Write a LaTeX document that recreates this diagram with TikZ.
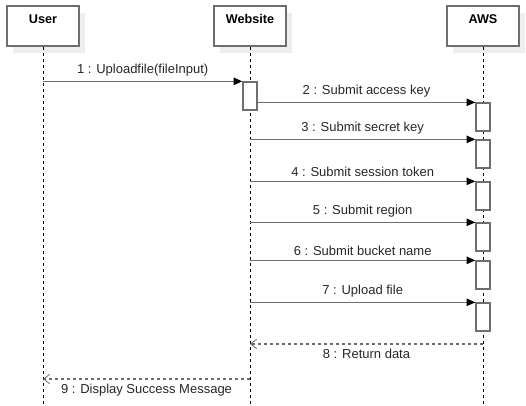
\documentclass[tikz,border=0pt]{standalone}
\usepackage{fontspec}
\setmainfont{Liberation Sans}
\usetikzlibrary{arrows.meta}
\definecolor{lineGray}{RGB}{110,110,110}
\definecolor{shadowGray}{RGB}{238,238,238}

\begin{document}
\begin{tikzpicture}[x=0.75pt, y=-0.75pt,
	actor/.style={draw=lineGray, line width=1pt, fill=white, minimum width=54pt, minimum height=30pt, inner sep=0pt},
	actorShadow/.style={fill=shadowGray, minimum width=54pt, minimum height=30pt, inner sep=0pt},
	actorName/.style={font=\bfseries\fontsize{9.5}{11}\selectfont, anchor=center, yshift=-10.5pt},
	activation/.style={draw=lineGray, line width=1pt, fill=white, minimum width=10.5pt, minimum height=21pt, inner sep=0pt},
	lifeline/.style={line width=0.6pt, dash pattern=on 2.5pt off 2pt},
	call/.style={draw=lineGray, line width=1pt, -{Triangle[length=6.5pt, width=5.5pt, color=black]}},
	reply/.style={draw=lineGray, line width=1pt, dash pattern=on 2.5pt off 2pt, -{Straight Barb[length=4.5pt, width=7pt, line width=0.6pt]}},
	msg/.style={font=\fontsize{9.75}{12}\selectfont, text=black!85}]

	\useasboundingbox (0,0) rectangle (526,405);

		% Define coordinates.

	%bottom of the lifelines
	\coordinate (bottom) at (0,405);

	%return rows
	\coordinate (dataRow) at (0,344);
	\coordinate (successRow) at (0,379);

% Draw actors.

	\node[actorShadow] (userShadow) at (49,33) {};
	\node[actorShadow] (websiteShadow) at (256,33) {};
	\node[actorShadow] (awsShadow) at (489,33) {};

	\node[actor, label={[actorName]north:User}] (user) at (43,26) {};
	\node[actor, label={[actorName]north:Website}] (website) at (250,26) {};
	\node[actor, label={[actorName]north:AWS}] (aws) at (483,26) {};

% Draw lifelines.

	\draw[lifeline] (user.south) -- (user |- bottom);
	\draw[lifeline] (website.south) -- (website |- bottom);
	\draw[lifeline] (aws.south) -- (aws |- bottom);

% Activations.

	\node[activation] (webAct) at (250,96) {};

	\node[activation] (awsAct1) at (483,117) {};
	\node[activation] (awsAct2) at (483,154) {};
	\node[activation] (awsAct3) at (483,196) {};
	\node[activation] (awsAct4) at (483,237) {};
	\node[activation] (awsAct5) at (483,275) {};
	\node[activation] (awsAct6) at (483,317) {};

% Draw messages.

	\draw[call] (user |- webAct.north) -- node[msg, above] {1 : Uploadfile(fileInput)} (webAct.north west);
	\draw[call] (webAct.east |- awsAct1.north) -- node[msg, above] {2 : Submit access key} (awsAct1.north west);
	\draw[call] (website |- awsAct2.north) -- node[msg, above] {3 : Submit secret key} (awsAct2.north west);
	\draw[call] (website |- awsAct3.north) -- node[msg, above] {4 : Submit session token} (awsAct3.north west);
	\draw[call] (website |- awsAct4.north) -- node[msg, above] {5 : Submit region} (awsAct4.north west);
	\draw[call] (website |- awsAct5.north) -- node[msg, above] {6 : Submit bucket name} (awsAct5.north west);
	\draw[call] (website |- awsAct6.north) -- node[msg, above] {7 : Upload file} (awsAct6.north west);

	%returns
	\draw[reply] (aws |- dataRow) -- node[msg, below] {8 : Return data} (website |- dataRow);
	\draw[reply] (website |- successRow) -- node[msg, below] {9 : Display Success Message} (user |- successRow);

\end{tikzpicture}
\end{document}
